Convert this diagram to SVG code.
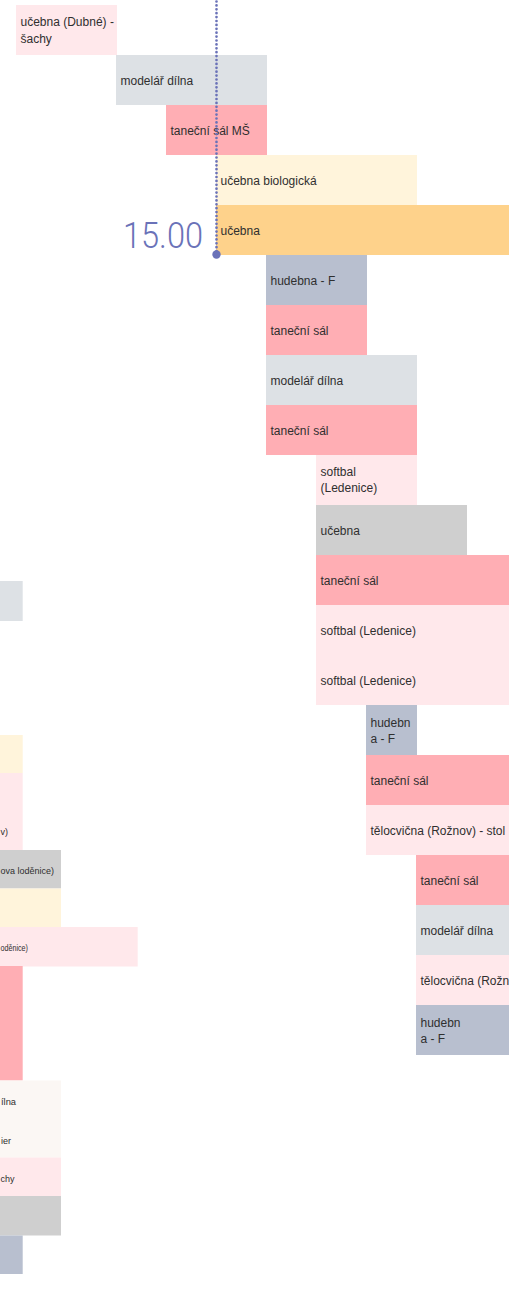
<svg xmlns="http://www.w3.org/2000/svg" width="509" height="1293" viewBox="0 0 509 1293">
<defs>
<style>
.pl{fill:#ffe8eb}
.gl{fill:#dde1e5}
.rd{fill:#ffaeb4}
.yl{fill:#fff4db}
.or{fill:#fed28b}
.bg{fill:#b8bfcf}
.gr{fill:#cfcfcf}
.ow{fill:#fbf7f4}
text{font-family:"Liberation Sans",Arial,sans-serif;font-size:12px;fill:#2f2f2f}
text.s{font-size:9px}
text.t{font-family:Roboto,"Liberation Sans",sans-serif;font-weight:300;font-size:36px;fill:#6a72b8}
</style>
</defs>
<rect width="509" height="1293" fill="#ffffff"/>

<g id="left-fragments">
<g id="l1"><rect class="gl" x="0" y="581" width="22.7" height="40"/></g>
<g id="l2"><rect class="yl" x="0" y="735" width="22.7" height="38"/></g>
<g id="l3"><rect class="pl" x="0" y="773" width="22.7" height="77"/><text class="s" x="0.5" y="835">v)</text></g>
<g id="l4"><rect class="gr" x="0" y="850" width="61" height="38.5"/><text class="s" x="0.5" y="874" textLength="53.5" lengthAdjust="spacingAndGlyphs">ova loděnice)</text></g>
<g id="l5"><rect class="yl" x="0" y="888.5" width="61" height="38.5"/></g>
<g id="l6"><rect class="pl" x="0" y="927" width="137.7" height="39.5"/><text class="s" x="0.5" y="951" textLength="27.5" lengthAdjust="spacingAndGlyphs">oděnice)</text></g>
<g id="l7"><rect class="rd" x="0" y="966" width="22.7" height="114.5"/></g>
<g id="l8"><rect class="ow" x="0" y="1080.5" width="61" height="77"/><text class="s" x="1" y="1105" textLength="15" lengthAdjust="spacingAndGlyphs">ílna</text><text class="s" x="1" y="1144">ier</text></g>
<g id="l9"><rect class="pl" x="0" y="1157.5" width="61" height="38.5"/><text class="s" x="0.5" y="1182">chy</text></g>
<g id="l10"><rect class="gr" x="0" y="1196" width="61" height="39.5"/></g>
<g id="l11"><rect class="bg" x="0" y="1235.5" width="22.7" height="38.5"/></g>
</g>

<g id="nodes">
<g id="n1"><rect class="pl" x="16" y="5" width="101" height="50"/><text x="20.5" y="26">učebna (Dubné) -</text><text x="20.5" y="42.5">šachy</text></g>
<g id="n2"><rect class="gl" x="116" y="55" width="151" height="50"/><text x="120.5" y="84.5">modelář dílna</text></g>
<g id="n3"><rect class="rd" x="166" y="105" width="101" height="50"/><text x="170.5" y="134.5">taneční sál MŠ</text></g>
<g id="n4"><rect class="yl" x="216" y="155" width="201" height="50"/><text x="220.5" y="184.5">učebna biologická</text></g>
<g id="n5"><rect class="or" x="216" y="205" width="293" height="50"/><text x="220.5" y="234.5">učebna</text></g>
<g id="n6"><rect class="bg" x="266" y="255" width="101" height="50"/><text x="270.5" y="284.5">hudebna - F</text></g>
<g id="n7"><rect class="rd" x="266" y="305" width="101" height="50"/><text x="270.5" y="334.5">taneční sál</text></g>
<g id="n8"><rect class="gl" x="266" y="355" width="151" height="50"/><text x="270.5" y="384.5">modelář dílna</text></g>
<g id="n9"><rect class="rd" x="266" y="405" width="151" height="50"/><text x="270.5" y="434.5">taneční sál</text></g>
<g id="n10"><rect class="pl" x="316" y="455" width="101" height="50"/><text x="320.5" y="475.5">softbal</text><text x="320.5" y="492">(Ledenice)</text></g>
<g id="n11"><rect class="gr" x="316" y="505" width="151" height="50"/><text x="320.5" y="534.5">učebna</text></g>
<g id="n12"><rect class="rd" x="316" y="555" width="193" height="50"/><text x="320.5" y="584.5">taneční sál</text></g>
<g id="n13"><rect class="pl" x="316" y="605" width="193" height="50"/><text x="320.5" y="634.5">softbal (Ledenice)</text></g>
<g id="n14"><rect class="pl" x="316" y="655" width="193" height="50"/><text x="320.5" y="684.5">softbal (Ledenice)</text></g>
<g id="n15"><rect class="bg" x="366" y="705" width="51" height="50"/><text x="370.5" y="726.5">hudebn</text><text x="370.5" y="743">a - F</text></g>
<g id="n16"><rect class="rd" x="366" y="755" width="143" height="50"/><text x="370.5" y="784.5">taneční sál</text></g>
<g id="n17"><rect class="pl" x="366" y="805" width="143" height="50"/><text x="370.5" y="834.5">tělocvična (Rožnov) - stol</text></g>
<g id="n18"><rect class="rd" x="416" y="855" width="93" height="50"/><text x="420.5" y="884.5">taneční sál</text></g>
<g id="n19"><rect class="gl" x="416" y="905" width="93" height="50"/><text x="420.5" y="934.5">modelář dílna</text></g>
<g id="n20"><rect class="pl" x="416" y="955" width="93" height="50"/><text x="420.5" y="984.5">tělocvična (Rožn</text></g>
<g id="n21"><rect class="bg" x="416" y="1005" width="93" height="50"/><text x="420.5" y="1026.5">hudebn</text><text x="420.5" y="1043">a - F</text></g>
</g>

<g id="connectors">
<line x1="216.5" y1="1.5" x2="216.5" y2="254" stroke="#6a72b8" stroke-width="2.7" stroke-linecap="round" stroke-dasharray="0 3.9"/>
<circle cx="216.5" cy="254.5" r="4.2" fill="#6a72b8"/>
<text class="t" x="203" y="247.5" text-anchor="end" textLength="80" lengthAdjust="spacingAndGlyphs">15.00</text>
</g>
</svg>
